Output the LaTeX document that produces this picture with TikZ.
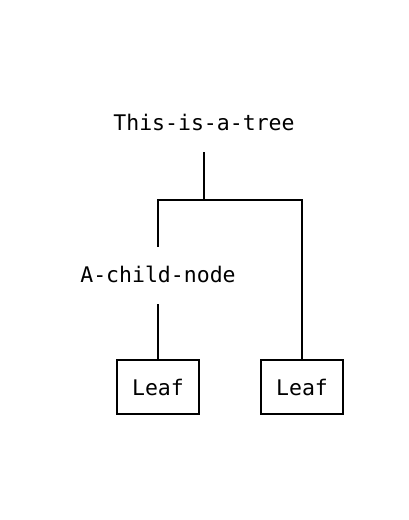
\documentclass[tikz,border=0pt]{standalone}
\usepackage{fontspec}
\setmonofont{DejaVu Sans Mono}
\begin{document}
\begin{tikzpicture}[x=1pt,y=-1pt,
  every node/.style={font=\ttfamily\fontsize{21.5}{25}\selectfont, inner sep=0pt, anchor=center},
  lbl/.style={minimum height=60pt},
  leafbox/.style={draw, line width=2pt, minimum width=82pt, minimum height=54pt},
  conn/.style={line width=2pt}]
\useasboundingbox (0,0) rectangle (408,520);
\node[lbl, minimum height=60pt] (root) at (204,122) {This-is-a-tree};
\node[lbl, minimum height=57pt] (child) at (158,275.5) {\raisebox{2pt}{A-child-node}};
\node[leafbox] (leaf1) at (158,387) {Leaf};
\node[leafbox] (leaf2) at (302,387) {Leaf};
\coordinate (j) at (204,200);
\draw[conn] (root.south) -- (j);
\draw[conn] (j) -| (child.north);
\draw[conn] (j) -| (leaf2.north);
\draw[conn] (child.south) -- (leaf1.north);
\end{tikzpicture}
\end{document}
